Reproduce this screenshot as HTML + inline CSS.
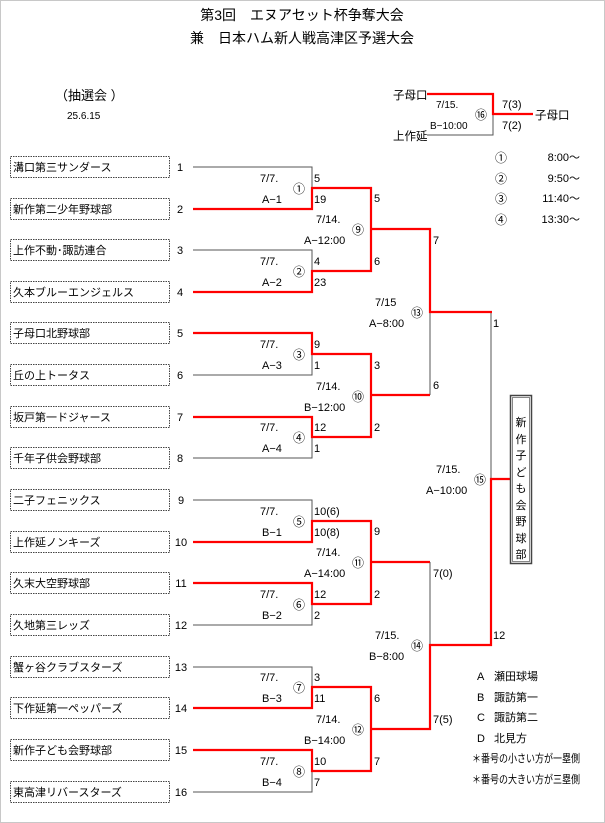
<!DOCTYPE html>
<html><head><meta charset="utf-8"><style>
html,body{margin:0;padding:0;background:#fff}
svg{display:block}
text{font-family:"Liberation Sans","Noto Sans CJK JP",sans-serif;font-size:11px;fill:#000}
.t{font-size:11.5px}
.h{font-size:14px}
.c{font-size:12px}
</style></head><body>
<svg width="605" height="823" viewBox="0 0 605 823" xmlns="http://www.w3.org/2000/svg">
<rect x="0.5" y="0.5" width="604" height="822" fill="#fff" stroke="#c8c8c8"/>
<text class="h" x="302" y="20" text-anchor="middle">第3回　エヌアセット杯争奪大会</text>
<text class="h" x="302" y="43" text-anchor="middle">兼　日本ハム新人戦高津区予選大会</text>
<text x="55" y="100" style="font-size:13px">（抽選会 ）</text>
<text x="67" y="119" style="font-size:10px">25.6.15</text>

<g fill="none" stroke="#444" stroke-dasharray="1.5,1">
<rect x="10.5" y="156.5" width="159" height="21"/>
<rect x="10.5" y="198.5" width="159" height="21"/>
<rect x="10.5" y="239.5" width="159" height="21"/>
<rect x="10.5" y="281.5" width="159" height="21"/>
<rect x="10.5" y="322.5" width="159" height="21"/>
<rect x="10.5" y="364.5" width="159" height="21"/>
<rect x="10.5" y="406.5" width="159" height="21"/>
<rect x="10.5" y="447.5" width="159" height="21"/>
<rect x="10.5" y="489.5" width="159" height="21"/>
<rect x="10.5" y="531.5" width="159" height="21"/>
<rect x="10.5" y="572.5" width="159" height="21"/>
<rect x="10.5" y="614.5" width="159" height="21"/>
<rect x="10.5" y="656.5" width="159" height="21"/>
<rect x="10.5" y="697.5" width="159" height="21"/>
<rect x="10.5" y="739.5" width="159" height="21"/>
<rect x="10.5" y="781.5" width="159" height="21"/>
</g>
<g class="t">
<text x="13" y="171">溝口第三サンダース</text>
<text x="13" y="213">新作第二少年野球部</text>
<text x="13" y="254">上作不動･諏訪連合</text>
<text x="13" y="296">久本ブルーエンジェルス</text>
<text x="13" y="337">子母口北野球部</text>
<text x="13" y="379">丘の上トータス</text>
<text x="13" y="421">坂戸第一ドジャース</text>
<text x="13" y="462">千年子供会野球部</text>
<text x="13" y="504">二子フェニックス</text>
<text x="13" y="546">上作延ノンキーズ</text>
<text x="13" y="587">久末大空野球部</text>
<text x="13" y="629">久地第三レッズ</text>
<text x="13" y="671">蟹ヶ谷クラブスターズ</text>
<text x="13" y="712">下作延第一ペッパーズ</text>
<text x="13" y="754">新作子ども会野球部</text>
<text x="13" y="796">東高津リバースターズ</text>
</g>
<g text-anchor="middle">
<text x="180" y="171">1</text><text x="180" y="213">2</text><text x="180" y="254">3</text><text x="180" y="296">4</text>
<text x="180" y="337">5</text><text x="180" y="379">6</text><text x="180" y="421">7</text><text x="180" y="462">8</text>
<text x="181" y="504">9</text><text x="181" y="546">10</text><text x="181" y="587">11</text><text x="181" y="629">12</text>
<text x="181" y="671">13</text><text x="181" y="712">14</text><text x="181" y="754">15</text><text x="181" y="796">16</text>
</g>

<g fill="none" stroke="#555" stroke-width="1">
<path d="M193 167H312V209H193M312 188H371"/>
<path d="M193 250H312V292H193M312 271H371"/>
<path d="M193 333H312V375H193M312 354H371"/>
<path d="M193 417H312V458H193M312 437H371"/>
<path d="M193 500H312V542H193M312 521H371"/>
<path d="M193 583H312V625H193M312 604H371"/>
<path d="M193 667H312V708H193M312 687H371"/>
<path d="M193 750H312V792H193M312 771H371"/>
<path d="M371 188V271M371 229H430"/>
<path d="M371 354V437M371 395H430"/>
<path d="M371 521V604M371 562H430"/>
<path d="M371 687V771M371 729H430"/>
<path d="M430 229V395M430 312H491"/>
<path d="M430 562V728M430 645H491"/>
<path d="M491 312V645M491 479H510"/>
<path d="M427 135H493V114"/>
</g>
<g fill="none" stroke="#f00" stroke-width="2.2">
<path d="M193 209H312V188H371V271H312V292H193"/>
<path d="M371 229H430V312H492"/>
<path d="M193 333H312V354H371V437H312V417H193"/>
<path d="M371 395H430"/>
<path d="M193 542H312V521H371V604H312V583H193"/>
<path d="M371 562H430"/>
<path d="M193 708H312V687H371V771H312V750H193"/>
<path d="M371 729H430V645H491V479H510"/>
<path d="M427 94H493V114H533"/>
</g>

<g>
<text x="260" y="182">7/7.</text><text x="262" y="203">A−1</text><text class="c" x="293" y="193">①</text><text x="314" y="182">5</text><text x="314" y="203">19</text>
<text x="260" y="265">7/7.</text><text x="262" y="286">A−2</text><text class="c" x="293" y="276">②</text><text x="314" y="265">4</text><text x="314" y="286">23</text>
<text x="260" y="348">7/7.</text><text x="262" y="369">A−3</text><text class="c" x="293" y="359">③</text><text x="314" y="348">9</text><text x="314" y="369">1</text>
<text x="260" y="431">7/7.</text><text x="262" y="452">A−4</text><text class="c" x="293" y="442">④</text><text x="314" y="431">12</text><text x="314" y="452">1</text>
<text x="260" y="515">7/7.</text><text x="262" y="536">B−1</text><text class="c" x="293" y="526">⑤</text><text x="314" y="515">10(6)</text><text x="314" y="536">10(8)</text>
<text x="260" y="598">7/7.</text><text x="262" y="619">B−2</text><text class="c" x="293" y="609">⑥</text><text x="314" y="598">12</text><text x="314" y="619">2</text>
<text x="260" y="681">7/7.</text><text x="262" y="702">B−3</text><text class="c" x="293" y="692">⑦</text><text x="314" y="681">3</text><text x="314" y="702">11</text>
<text x="260" y="765">7/7.</text><text x="262" y="786">B−4</text><text class="c" x="293" y="776">⑧</text><text x="314" y="765">10</text><text x="314" y="786">7</text>
</g>
<g>
<text x="316" y="223">7/14.</text><text x="304" y="244">A−12:00</text><text class="c" x="352" y="234">⑨</text><text x="374" y="202">5</text><text x="374" y="265">6</text>
<text x="316" y="390">7/14.</text><text x="304" y="411">B−12:00</text><text class="c" x="352" y="401">⑩</text><text x="374" y="369">3</text><text x="374" y="431">2</text>
<text x="316" y="556">7/14.</text><text x="304" y="577">A−14:00</text><text class="c" x="352" y="567">⑪</text><text x="374" y="535">9</text><text x="374" y="598">2</text>
<text x="316" y="723">7/14.</text><text x="304" y="744">B−14:00</text><text class="c" x="352" y="734">⑫</text><text x="374" y="702">6</text><text x="374" y="765">7</text>
</g>
<g>
<text x="375" y="306">7/15</text><text x="369" y="327">A−8:00</text><text class="c" x="411" y="317">⑬</text><text x="433" y="244">7</text><text x="433" y="389">6</text>
<text x="375" y="639">7/15.</text><text x="369" y="660">B−8:00</text><text class="c" x="411" y="650">⑭</text><text x="433" y="577">7(0)</text><text x="433" y="723">7(5)</text>
</g>
<text x="436" y="473">7/15.</text><text x="426" y="494">A−10:00</text><text class="c" x="474" y="484">⑮</text>
<text x="493" y="327">1</text><text x="493" y="639">12</text>
<rect x="510.5" y="395.5" width="21" height="168" fill="#fff" stroke="#444" stroke-width="1.5"/>
<rect x="512.5" y="397.5" width="17" height="164" fill="none" stroke="#888" stroke-width="1"/>
<g text-anchor="middle" style="font-size:11px">
<text x="521" y="426">新</text><text x="521" y="443">作</text><text x="521" y="459">子</text><text x="521" y="476">ど</text>
<text x="521" y="492">も</text><text x="521" y="509">会</text><text x="521" y="525">野</text><text x="521" y="542">球</text><text x="521" y="558">部</text>
</g>

<text x="393" y="99" class="t">子母口</text>
<text x="393" y="140" class="t">上作延</text>
<text x="436" y="108" style="font-size:10px">7/15.</text>
<text x="430" y="129" style="font-size:10px">B−10:00</text>
<text class="c" x="475" y="119">⑯</text>
<text x="502" y="108">7(3)</text>
<text x="502" y="129">7(2)</text>
<text x="535" y="119" class="t">子母口</text>
<text class="c" x="495" y="162">①</text><text x="580" y="161" text-anchor="end">8:00～</text>
<text class="c" x="495" y="183">②</text><text x="580" y="182" text-anchor="end">9:50～</text>
<text class="c" x="495" y="203">③</text><text x="580" y="202" text-anchor="end">11:40～</text>
<text class="c" x="495" y="224">④</text><text x="580" y="223" text-anchor="end">13:30～</text>

<g style="font-size:10px">
<text x="477" y="680">A</text><text x="494" y="680">瀬田球場</text>
<text x="477" y="701">B</text><text x="494" y="701">諏訪第一</text>
<text x="477" y="721">C</text><text x="494" y="721">諏訪第二</text>
<text x="477" y="742">D</text><text x="494" y="742">北見方</text>
</g>
<g style="font-size:10px">
<text x="472" y="762" textLength="108" lengthAdjust="spacingAndGlyphs">＊番号の小さい方が一塁側</text>
<text x="472" y="783" textLength="108" lengthAdjust="spacingAndGlyphs">＊番号の大きい方が三塁側</text>
</g>
</svg>
</body></html>
